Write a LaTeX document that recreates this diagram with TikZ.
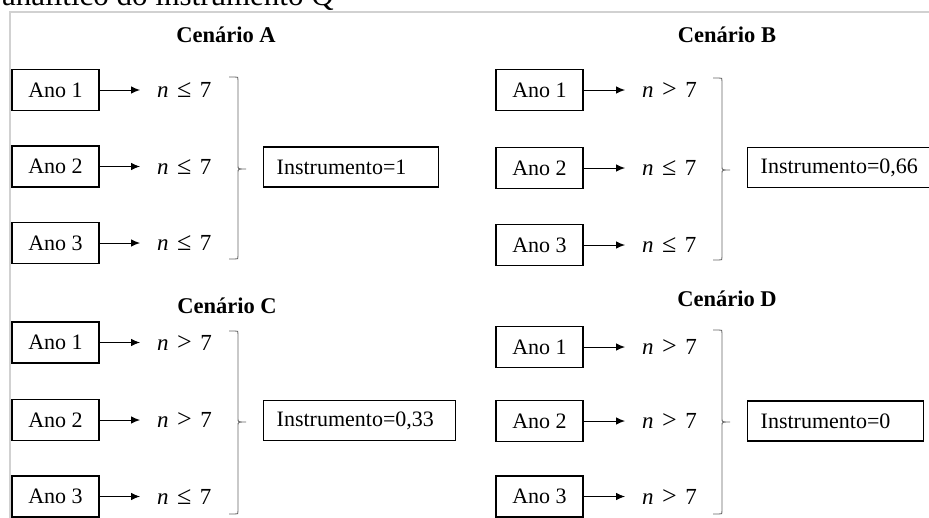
\documentclass[tikz,border=0pt]{standalone}
\usepackage{fontspec}
\setmainfont{Liberation Serif}
\usetikzlibrary{arrows.meta}

% right-hand brace: x, top, bottom, middle
\newcommand\chave[4]{%
  \draw[bracket] (#1-9,#2) -- (#1-3,#2) .. controls (#1,#2) .. (#1,#2+3)
    -- (#1,#4-3) .. controls (#1,#4) .. (#1+8,#4)
    .. controls (#1,#4) .. (#1,#4+3)
    -- (#1,#3-3) .. controls (#1,#3) .. (#1-3,#3) -- (#1-9,#3);}
% conditions on n
\newcommand\nle{\textit{n}\hspace{8.5pt}{\fontsize{26}{26}\selectfont≤}\hspace{8.5pt}7}
\newcommand\ngt{\textit{n}\hspace{8.5pt}{\fontsize{26}{26}\selectfont>}\hspace{8.5pt}7}

\begin{document}
\begin{tikzpicture}[x=1pt,y=-1pt,
  txt/.style={font=\fontsize{22}{25}\selectfont},
  hdr/.style={font=\fontsize{22.5}{26}\selectfont\bfseries, inner sep=0pt},
  anobox/.style={txt, draw, line width=1.4pt, minimum width=87pt,
    minimum height=41pt, inner sep=0pt},
  cond/.style={font=\fontsize{23}{26}\selectfont, anchor=west, inner sep=0pt},
  result/.style={txt, draw, line width=1.4pt, anchor=west, minimum height=40pt,
    inner xsep=13pt, inner ysep=0pt, text width=#1, align=left},
  link/.style={-{Latex[length=9pt,width=7.5pt]}, line width=0.9pt, shorten >=17pt},
  bracket/.style={draw=black!60, line width=0.9pt}]
\useasboundingbox (0,0) rectangle (929,517);
\clip (0,0) rectangle (929,517);

% caption line running above the frame
\node[anchor=base west, inner sep=0pt, font=\fontsize{31}{36}\selectfont]
  (legenda) at (2,5) {analítico do instrumento Q};

% light frame
\draw[black!18, line width=2pt] (10,520) -- (10,12) -- (935,12);

% ---- Cenario A ----
\node[hdr] (hA) at (226,35) {Cenário A};
\node[anobox] (a1) at (55.5,90)    {Ano 1};
\node[anobox] (a2) at (55.5,166.5) {Ano 2};
\node[anobox] (a3) at (55.5,243)   {Ano 3};
\node[cond] (ca1) at (157,90)    {\nle};
\node[cond] (ca2) at (157,166.5) {\nle};
\node[cond] (ca3) at (157,243)   {\nle};
\foreach \i in {1,2,3} \draw[link] (a\i.east) -- (a\i.east -| ca\i.west);
\chave{238}{77}{259}{169}
\node[result=149pt] (rA) at (263,167) {Instrumento=1};

% ---- Cenario B ----
\node[hdr] (hB) at (727,35) {Cenário B};
\node[anobox] (b1) at (539.5,90)  {Ano 1};
\node[anobox] (b2) at (539.5,168) {Ano 2};
\node[anobox] (b3) at (539.5,245) {Ano 3};
\node[cond] (cb1) at (642,90)  {\ngt};
\node[cond] (cb2) at (642,168) {\nle};
\node[cond] (cb3) at (642,245) {\nle};
\foreach \i in {1,2,3} \draw[link] (b\i.east) -- (b\i.east -| cb\i.west);
\chave{722}{78}{260}{170}
\node[result=166pt] (rB) at (747,167.5) {Instrumento=0,66};

% ---- Cenario C ----
\node[hdr] (hC) at (227,306) {Cenário C};
\node[anobox] (c1) at (55.5,342.5) {Ano 1};
\node[anobox] (c2) at (55.5,420)   {Ano 2};
\node[anobox] (c3) at (55.5,496.5) {Ano 3};
\node[cond] (cc1) at (157,342.5) {\ngt};
\node[cond] (cc2) at (157,420)   {\ngt};
\node[cond] (cc3) at (157,496.5) {\nle};
\foreach \i in {1,2,3} \draw[link] (c\i.east) -- (c\i.east -| cc\i.west);
\chave{238}{331}{514}{422}
\node[result=166pt] (rC) at (263,420.5) {Instrumento=0,33};

% ---- Cenario D ----
\node[hdr] (hD) at (727,299) {Cenário D};
\node[anobox] (d1) at (539.5,347)   {Ano 1};
\node[anobox] (d2) at (539.5,421)   {Ano 2};
\node[anobox] (d3) at (539.5,496.5) {Ano 3};
\node[cond] (cd1) at (642,347)   {\ngt};
\node[cond] (cd2) at (642,421)   {\ngt};
\node[cond] (cd3) at (642,496.5) {\ngt};
\foreach \i in {1,2,3} \draw[link] (d\i.east) -- (d\i.east -| cd\i.west);
\chave{722}{330}{514}{422}
\node[result=150pt] (rD) at (747,421) {Instrumento=0};
\end{tikzpicture}
\end{document}
